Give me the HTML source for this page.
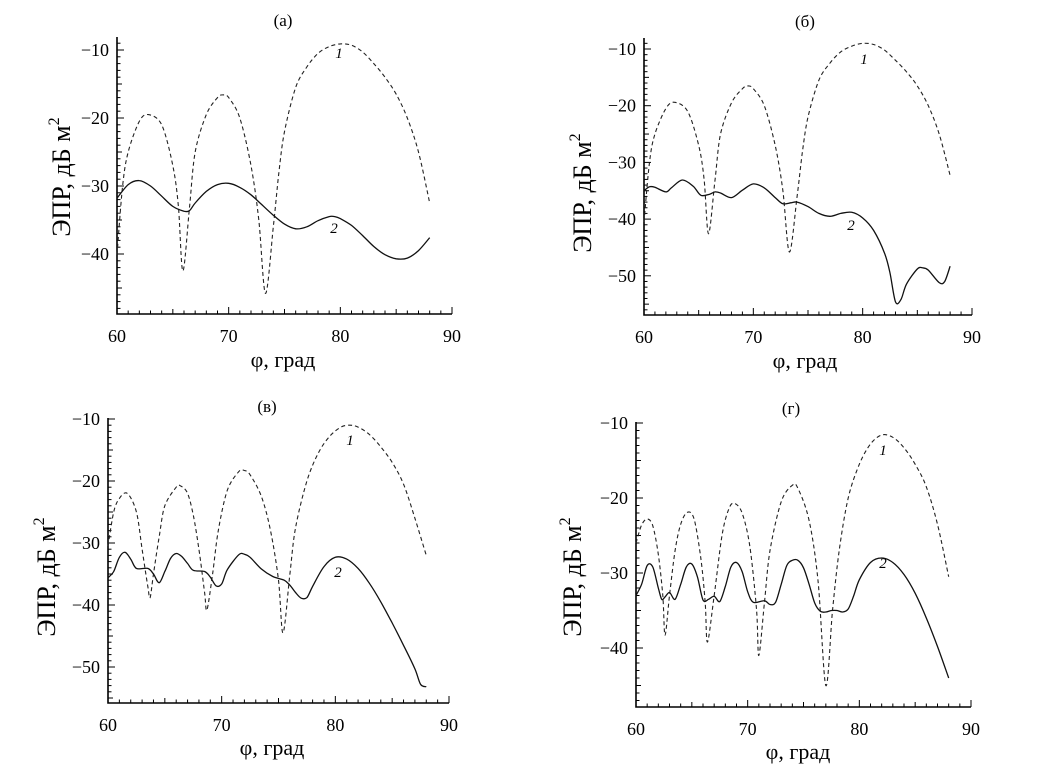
<!DOCTYPE html>
<html><head><meta charset="utf-8">
<style>
html,body{margin:0;padding:0;background:#fff;}
svg{display:block;font-family:"Liberation Serif",serif;}
</style></head>
<body>
<svg id="fig" width="1053" height="778" viewBox="0 0 1053 778" xmlns="http://www.w3.org/2000/svg"></svg>
<script>
// ---- data ----
const xTicks = [60, 70, 80, 90];
const panelTitles = ["(a)", "(б)", "(в)", "(г)"];

const a1x = [60,60.5,61,62,62.8,64,65,65.5,65.9,66.5,67,68,69,69.5,70,71,72,72.7,73.3,74,74.5,75,76,77,78,79,80,81,82,83,84,85,86,87,88];
const a1y = [-40.1,-30,-25,-20.5,-19.5,-21,-27,-33,-42.5,-33,-25,-19.5,-17,-16.6,-17,-20,-27,-35,-45.8,-36,-28,-22,-15.5,-12.5,-10.5,-9.5,-9.1,-9.3,-10.3,-12,-14,-16.5,-20,-25,-32.5];
const a2x = [60,61,62,63,64,65,66,66.5,67,68,69,70,71,72,73,74,75,76,77,78,79,79.5,80,81,82,83,84,85,86,87,88];
const a2y = [-31.8,-29.8,-29.2,-30,-31.5,-33,-33.7,-33.6,-32.5,-30.8,-29.8,-29.6,-30.2,-31.3,-32.8,-34.3,-35.6,-36.3,-36,-35.1,-34.5,-34.5,-34.8,-35.8,-37.3,-38.9,-40.1,-40.7,-40.6,-39.5,-37.6];

const b1x = [60,60.5,61,62,62.8,64,65,65.5,65.9,66.5,67,68,69,69.5,70,71,72,72.7,73.3,74,74.5,75,76,77,78,79,80,81,82,83,84,85,86,87,88];
const b1y = [-40.5,-30,-25,-20.5,-19.4,-21,-27,-33,-42.6,-33,-25,-19.5,-17,-16.5,-17,-20,-27,-35,-45.8,-36,-28,-22,-15.5,-12.5,-10.5,-9.5,-9,-9.2,-10.2,-12,-14,-16.5,-20,-25,-32.3];
const b2x = [60,60.5,61,62,62.5,63.5,64.5,65.2,66,66.5,67,68,69,70,71,72,72.7,73.5,74,75,76,77,78,79,80,81,82,82.5,83,83.5,84,85,85.5,86,87,87.5,88];
const b2y = [-35,-34.3,-34.4,-35.2,-34.5,-33.1,-34.2,-35.8,-35.6,-35.2,-35.4,-36.2,-34.9,-33.8,-34.5,-36.2,-37.3,-37.1,-37,-37.8,-39,-39.5,-39,-38.8,-39.8,-42,-46,-49.5,-54.6,-54.2,-51.5,-48.8,-48.6,-49,-51.2,-51,-48.3];

const c1x = [60,60.5,61,61.7,62.5,63,63.5,63.7,64,64.5,65,66,66.4,67,67.5,68,68.5,68.7,69.2,69.7,70.5,71.5,72,72.5,73.5,74.3,75,75.4,76,76.5,77.5,78.5,79.5,80.5,81.3,82,83,84,85,86,87,88];
const c1y = [-30.5,-25,-22.8,-22,-25,-31,-37,-38.8,-35,-29,-24,-21,-20.8,-22,-25.5,-31,-38,-40.8,-35,-28,-21.5,-18.5,-18.3,-19,-22.5,-28,-36,-44.5,-35,-27.5,-20,-15.5,-12.8,-11.3,-11,-11.3,-12.5,-14.5,-17,-20.5,-26,-32];
const c2x = [60,60.5,61,61.5,62,62.5,63.5,64,64.5,65,65.5,66,66.5,67,67.5,68.5,69,69.5,70,70.5,71.5,72,72.5,73.5,74.5,75.5,76,76.5,77,77.5,78,79,80,81,82,83,84,85,86,87,87.5,88];
const c2y = [-35.6,-34.6,-32.3,-31.5,-32.6,-34.1,-34.1,-35,-36.4,-34.6,-32.5,-31.7,-32.2,-33.3,-34.4,-34.6,-35.5,-36.9,-36.6,-34.3,-31.9,-31.8,-32.3,-34.2,-35.4,-36,-36.8,-38,-38.9,-38.8,-37,-33.8,-32.3,-32.6,-34.1,-36.5,-39.5,-42.9,-46.5,-50.3,-52.8,-53.2];

const d1x = [60,60.5,61,61.5,62,62.4,62.6,63,63.5,64,64.6,65.2,65.8,66.2,66.4,67,67.7,68.3,68.8,69.5,70.2,70.8,71,71.5,72,73,74,74.5,75.5,76.3,77,77.6,78.2,79,80,81,82,83,84,85,86,87,88];
const d1y = [-26,-23.6,-22.8,-23.7,-27.5,-33,-38.3,-33,-27,-23.5,-21.9,-22.8,-28,-34,-39.2,-33,-25,-21.5,-20.7,-22,-26.5,-35,-41,-34,-27,-20.5,-18.3,-18.7,-23,-31,-45,-35,-27,-20,-15.5,-12.8,-11.6,-11.9,-13.3,-15.5,-18.5,-23.5,-30.5];
const d2x = [60,60.5,61,61.5,62,62.3,62.6,63,63.5,64,64.5,65,65.5,66,66.5,67,67.5,68,68.5,69,69.5,70,70.5,71.5,72,72.5,73,73.5,74,74.5,75,75.5,76,76.5,77,77.5,78,78.5,79,79.5,80,81,82,83,84,85,86,87,88];
const d2y = [-33,-31.5,-29,-29.2,-32,-33.5,-33.2,-32.6,-33.5,-31.5,-29.2,-28.8,-30.5,-33.6,-33.5,-33.1,-33.8,-31.8,-29.2,-28.6,-29.8,-32.5,-33.9,-33.7,-34.2,-33.9,-31.5,-29,-28.3,-28.3,-29.3,-31.5,-34,-35.1,-35.2,-35,-35,-35.2,-34.8,-33,-30.9,-28.6,-28,-28.6,-30.2,-32.7,-36,-39.8,-44];

// ---- layout (positions only) ----
const panels = [
 {id:"a", left:117,right:452,bottom:314,y10:50,k:6.8,top:37,yt:[-10,-20,-30,-40],s1:[a1x,a1y],s2:[a2x,a2y],l1:[339,58],l2:[334,233],tt:[283,26],yl:[62,177],xl:[283,361]},
 {id:"b", left:644,right:972,bottom:315,y10:49,k:5.67,top:38,yt:[-10,-20,-30,-40,-50],s1:[b1x,b1y],s2:[b2x,b2y],l1:[864,64],l2:[851,230],tt:[805,27],yl:[583,193],xl:[805,362]},
 {id:"c", left:108,right:449,bottom:703,y10:419,k:6.2,top:418,yt:[-10,-20,-30,-40,-50],s1:[c1x,c1y],s2:[c2x,c2y],l1:[350,445],l2:[338,577],tt:[267,412],yl:[47,577],xl:[272,749]},
 {id:"d", left:636,right:971,bottom:707,y10:423,k:7.5,top:422,yt:[-10,-20,-30,-40],s1:[d1x,d1y],s2:[d2x,d2y],l1:[883,455],l2:[883,568],tt:[791,414],yl:[573,577],xl:[798,753]}
];
const NS="http://www.w3.org/2000/svg";
const svg=document.getElementById('fig');
function mk(tag,attrs,parent){const e=document.createElementNS(NS,tag);for(const k in attrs)e.setAttribute(k,attrs[k]);(parent||svg).appendChild(e);return e;}
function smooth(pts){
  let d='M'+pts[0][0].toFixed(1)+','+pts[0][1].toFixed(1);
  for(let i=0;i<pts.length-1;i++){
    const p0=pts[Math.max(0,i-1)],p1=pts[i],p2=pts[i+1],p3=pts[Math.min(pts.length-1,i+2)];
    const t=0.16;
    const c1x=p1[0]+(p2[0]-p0[0])*t,c1y=p1[1]+(p2[1]-p0[1])*t;
    const c2x=p2[0]-(p3[0]-p1[0])*t,c2y=p2[1]-(p3[1]-p1[1])*t;
    d+=`C${c1x.toFixed(1)},${c1y.toFixed(1)} ${c2x.toFixed(1)},${c2y.toFixed(1)} ${p2[0].toFixed(1)},${p2[1].toFixed(1)}`;
  }
  return d;
}

panels.forEach((p,pi)=>{
  const g=mk('g',{});
  
  
  const X=v=>p.left+(v-60)*(p.right-p.left)/30;
  const Y=v=>p.y10+(-10-v)*p.k;
  const vBottom=-10-(p.bottom-p.y10)/p.k;
  const vTop=-10+(p.y10-p.top)/p.k;
  const ax=mk('path',{d:`M${p.left},${p.top}V${p.bottom}H${p.right}`,stroke:'#000','stroke-width':1.6,fill:'none'},g);
  
  
  for(let v=60;v<=90;v++){
    const len=v%10===0?7:(v%5===0?5:3.5);
    mk('line',{x1:X(v),x2:X(v),y1:p.bottom,y2:p.bottom-len,stroke:'#000','stroke-width':1},g);
  }
  for(let v=Math.ceil(vBottom);v<=Math.floor(vTop);v++){
    const len=v%10===0?7:(v%5===0?5:3.5);
    mk('line',{x1:p.left,x2:p.left+len,y1:Y(v),y2:Y(v),stroke:'#000','stroke-width':1},g);
  }
  xTicks.forEach(v=>{
    const t=mk('text',{x:X(v),y:p.bottom+28,'font-size':18,'text-anchor':'middle'},g);
    t.textContent=v;
    
    
  });
  p.yt.forEach(v=>{
    const t=mk('text',{x:p.left-8,y:Y(v)+6,'font-size':18,'text-anchor':'end'},g);
    t.textContent='\u2212'+Math.abs(v);
    
    
  });
  const path=(xs,ys)=>smooth(xs.map((x,i)=>[X(x),Y(ys[i])]));
  const l1=mk('path',{d:path(p.s1[0],p.s1[1]),stroke:'#222','stroke-width':1.1,fill:'none','stroke-dasharray':'4,3','stroke-linejoin':'round'},g);
  
  
  const l2=mk('path',{d:path(p.s2[0],p.s2[1]),stroke:'#111','stroke-width':1.3,fill:'none','stroke-linejoin':'round'},g);
  
  
  const c1=mk('text',{x:p.l1[0],y:p.l1[1],'font-size':15,'font-style':'italic','text-anchor':'middle'},g);
  c1.textContent='1';
  
  
  const c2=mk('text',{x:p.l2[0],y:p.l2[1],'font-size':15,'font-style':'italic','text-anchor':'middle'},g);
  c2.textContent='2';
  
  
  const tt=mk('text',{x:p.tt[0],y:p.tt[1],'font-size':17,'text-anchor':'middle'},g);
  tt.textContent=panelTitles[pi];
  
  
  const yl=mk('text',{x:0,y:0,'font-size':26,'text-anchor':'middle',transform:`translate(${p.yl[0]+8},${p.yl[1]}) rotate(-90)`},g);
  yl.innerHTML='ЭПР, дБ м<tspan font-size="16" dy="-11">2</tspan>';
  
  
  const xl=mk('text',{x:p.xl[0],y:p.xl[1]+6,'font-size':22,'text-anchor':'middle'},g);
  xl.textContent='φ, град';
  
  
});
</script>
</body></html>
